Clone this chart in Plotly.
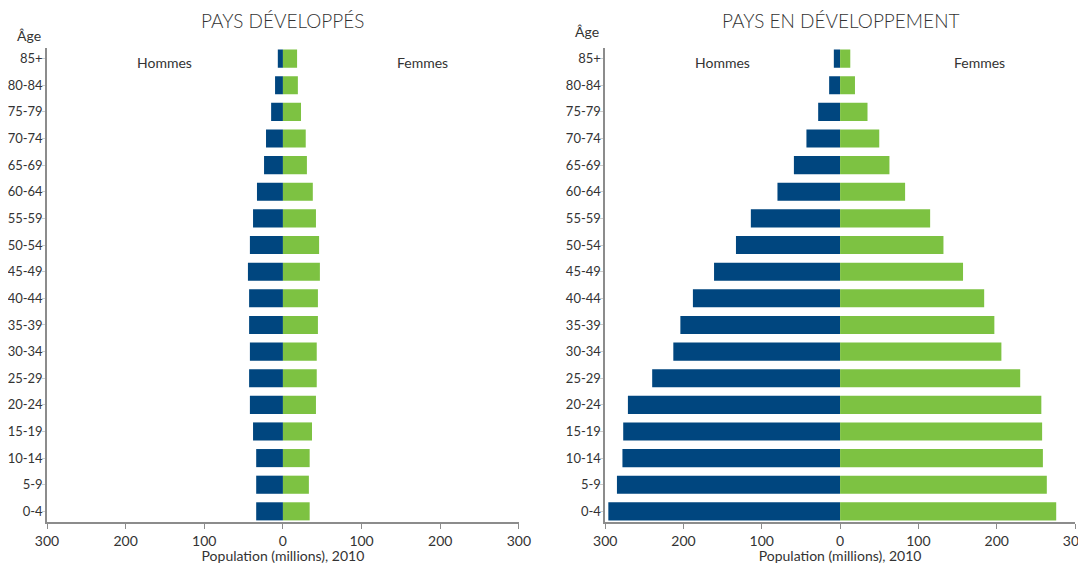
import plotly.graph_objects as go

# Groupes d'âge (du plus jeune au plus âgé)
ages = ['0-4', '5-9', '10-14', '15-19', '20-24', '25-29', '30-34', '35-39', '40-44',
        '45-49', '50-54', '55-59', '60-64', '65-69', '70-74', '75-79', '80-84', '85+']

# Pays développés (millions)
dev_hommes = [34, 34, 34, 38, 42, 43, 42, 43, 43, 44.5, 42, 38, 33, 24, 21.5, 15, 10, 6.5]
dev_femmes = [34, 33, 34, 37, 42, 43, 43, 44.5, 44.5, 47, 46, 42, 38, 30.5, 29, 23, 19, 18]

# Pays en développement (millions)
pd_hommes = [296, 285, 278, 277, 271, 240, 213, 204, 188, 161, 133, 114, 80, 59, 43, 28, 14, 8]
pd_femmes = [276, 264, 259, 258, 257, 230, 206, 197, 184, 157, 132, 115, 83, 63, 50, 35, 19, 13]

tick_vals = [-300, -200, -100, 0, 100, 200, 300]
tick_text = ['300', '200', '100', '0', '100', '200', '300']

BLEU = '#00467f'
VERT = '#7dc242'
GRIS = '#333333'
FONT = 'Lato'

fig = go.Figure()

for hommes, femmes, xa, ya in [(dev_hommes, dev_femmes, 'x', 'y'),
                               (pd_hommes, pd_femmes, 'x2', 'y2')]:
    fig.add_trace(go.Bar(
        y=ages, x=[-v for v in hommes], orientation='h', name='Hommes',
        marker=dict(color=BLEU, line=dict(width=0)),
        xaxis=xa, yaxis=ya, showlegend=False,
        hovertemplate='%{y}: %{customdata}<extra>Hommes</extra>', customdata=hommes
    ))
    fig.add_trace(go.Bar(
        y=ages, x=femmes, orientation='h', name='Femmes',
        marker=dict(color=VERT, line=dict(width=0)),
        xaxis=xa, yaxis=ya, showlegend=False,
        hovertemplate='%{y}: %{x}<extra>Femmes</extra>'
    ))

xaxis_style = dict(
    range=[-300, 300], tickvals=tick_vals, ticktext=tick_text,
    showline=True, linecolor='#8c8c8c', linewidth=1.5,
    ticks='outside', ticklen=5, tickcolor='#8c8c8c', ticklabeloverflow='allow',
    showgrid=False, zeroline=False, automargin=False,
    tickfont=dict(size=14, color=GRIS, family=FONT),
    title=dict(text='Population (millions), 2010', standoff=2,
               font=dict(size=14, color=GRIS, family=FONT)),
)
yaxis_style = dict(
    categoryorder='array', categoryarray=ages, range=[-0.4, 17.4],
    showline=True, linecolor='#8c8c8c', linewidth=1.5,
    ticks='outside', ticklen=3, tickcolor='#cccccc', ticklabelstandoff=-3,
    showgrid=False, zeroline=False, automargin=False,
    tickfont=dict(size=13, color=GRIS, family=FONT),
)

# la page ajoute une marge de 8 px autour du graphique
fig.update_layout(
    width=1078, height=556,
    margin=dict(l=39, r=11, t=40, b=42),
    plot_bgcolor='white', paper_bgcolor='white',
    barmode='relative', bargap=0.32,
    font=dict(family=FONT, color=GRIS),
    xaxis=dict(domain=[0, 0.459], anchor='y', **xaxis_style),
    yaxis=dict(anchor='x', **yaxis_style),
    xaxis2=dict(domain=[0.543, 1], anchor='y2', **xaxis_style),
    yaxis2=dict(anchor='x2', **yaxis_style),
)

PLOT_H = 556 - 40 - 42

titres = [('PAYS DÉVELOPPÉS', 0.2295), ('PAYS EN DÉVELOPPEMENT', 0.7715)]
for texte, xpos in titres:
    fig.add_annotation(text=texte, xref='paper', yref='paper', x=xpos,
                       y=1 + (48 - 20) / PLOT_H, xanchor='center', yanchor='middle',
                       showarrow=False,
                       font=dict(size=19, color=GRIS, family=FONT, weight=300))

# Libellés Âge / Hommes / Femmes
for xr, yr, age_y in [('x', 'y', 35), ('x2', 'y2', 32)]:
    fig.add_annotation(text='Âge', xref=f'{xr} domain', yref='paper', x=0, xshift=-4,
                       y=1 + (48 - age_y) / PLOT_H,
                       xanchor='right', yanchor='middle', showarrow=False,
                       font=dict(size=14, color=GRIS, family=FONT))
    fig.add_annotation(text='Hommes', xref=xr, yref=yr, x=-150, y='85+',
                       yshift=-4, showarrow=False, font=dict(size=14, color=GRIS, family=FONT))
    fig.add_annotation(text='Femmes', xref=xr, yref=yr, x=178, y='85+',
                       yshift=-4, showarrow=False, font=dict(size=14, color=GRIS, family=FONT))

fig.write_html('out.html')
